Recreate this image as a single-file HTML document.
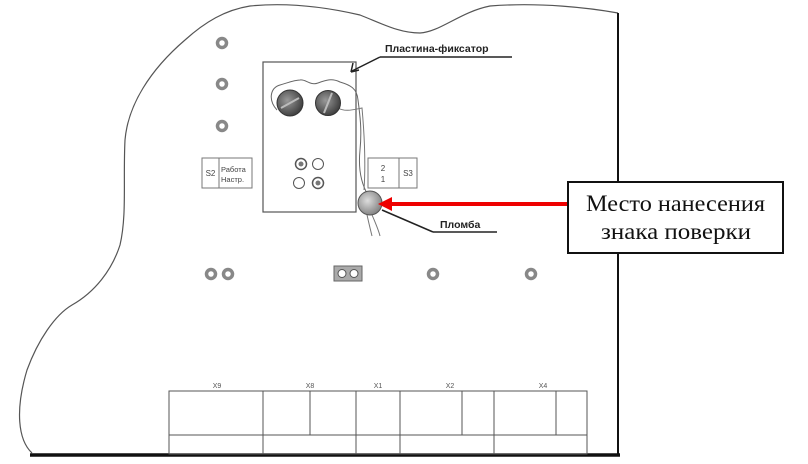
<!DOCTYPE html>
<html><head><meta charset="utf-8"><style>body{margin:0;background:#fff}svg{display:block}</style></head><body>
<svg width="808" height="464" viewBox="0 0 808 464" xmlns="http://www.w3.org/2000/svg" font-family="Liberation Sans, sans-serif">
<defs>
<radialGradient id="ball" cx="0.4" cy="0.4" r="0.7"><stop offset="0" stop-color="#ddd"/><stop offset="1" stop-color="#777"/></radialGradient>
<radialGradient id="scr" cx="0.4" cy="0.4" r="0.7"><stop offset="0" stop-color="#999"/><stop offset="1" stop-color="#333"/></radialGradient>
</defs>
<path d="M32,453 C18,440 15,410 27,370 C38,340 55,315 72,305 C95,292 112,270 120,245 C127,215 123,180 125,140 C128,105 150,70 185,40 C205,22 225,10 250,6 C290,2 330,8 360,15 C385,25 400,33 420,33 C440,32 460,12 490,6 C540,2 590,8 618,13" fill="none" stroke="#555" stroke-width="1.2"/>
<line x1="618" y1="13" x2="618" y2="455" stroke="#111" stroke-width="2"/>
<line x1="30" y1="455" x2="620" y2="455" stroke="#111" stroke-width="3.5"/>
<g fill="none" stroke="#888" stroke-width="3.5">
<circle cx="222" cy="43" r="4.5"/><circle cx="222" cy="84" r="4.5"/><circle cx="222" cy="126" r="4.5"/>
<circle cx="211" cy="274" r="4.5"/><circle cx="228" cy="274" r="4.5"/>
<circle cx="433" cy="274" r="4.5"/><circle cx="531" cy="274" r="4.5"/>
</g>
<rect x="334" y="266" width="28" height="15" fill="#aaa" stroke="#666"/>
<circle cx="342" cy="273.5" r="4" fill="#fff" stroke="#555"/><circle cx="354" cy="273.5" r="4" fill="#fff" stroke="#555"/>
<rect x="202" y="158" width="50" height="30" fill="#fff" stroke="#777"/>
<line x1="219" y1="158" x2="219" y2="188" stroke="#777"/>
<text x="210.5" y="176" font-size="8" text-anchor="middle" fill="#444">S2</text>
<text x="221" y="172" font-size="7.5" fill="#444">Работа</text>
<text x="221" y="182" font-size="7.5" fill="#444">Настр.</text>
<rect x="368" y="158" width="49" height="30" fill="#fff" stroke="#777"/>
<line x1="399" y1="158" x2="399" y2="188" stroke="#777"/>
<text x="383" y="171" font-size="8" text-anchor="middle" fill="#444">2</text>
<text x="383" y="182" font-size="8" text-anchor="middle" fill="#444">1</text>
<text x="408" y="176" font-size="8" text-anchor="middle" fill="#444">S3</text>
<rect x="263" y="62" width="93" height="150" fill="#fff" stroke="#555" stroke-width="1.2"/>
<path d="M277,110 C268,100 270,88 280,85 C290,82 295,80 300,80 C306,79 310,86 318,83 C326,80 332,78 340,82 C350,85 357,88 358,100 C360,115 362,130 360,150 C358,170 362,185 368,195" fill="none" stroke="#666" stroke-width="1"/>
<path d="M338,108 C345,112 352,110 362,108 C364,130 366,160 364,190 M366,210 C368,220 370,228 372,236 M370,210 C374,220 378,228 380,236" fill="none" stroke="#777" stroke-width="1"/>
<circle cx="290" cy="103" r="13" fill="url(#scr)" stroke="#333"/>
<line x1="281" y1="108" x2="299" y2="98" stroke="#bbb" stroke-width="2"/>
<circle cx="328" cy="103" r="12.5" fill="url(#scr)" stroke="#333"/>
<line x1="324" y1="113" x2="332" y2="93" stroke="#bbb" stroke-width="2"/>
<circle cx="301" cy="164" r="5.5" fill="#fff" stroke="#555" stroke-width="1.5"/><circle cx="301" cy="164" r="2.5" fill="#777"/>
<circle cx="318" cy="164" r="5.5" fill="#fff" stroke="#555"/>
<circle cx="299" cy="183" r="5.5" fill="#fff" stroke="#555"/>
<circle cx="318" cy="183" r="5.5" fill="#fff" stroke="#555" stroke-width="1.5"/><circle cx="318" cy="183" r="2.5" fill="#777"/>
<circle cx="370" cy="203" r="12" fill="url(#ball)" stroke="#555"/>
<text x="385" y="52" font-size="10.5" font-weight="bold" fill="#222">Пластина-фиксатор</text>
<line x1="380" y1="57" x2="512" y2="57" stroke="#222" stroke-width="1.5"/>
<path d="M380,57 L352,71" stroke="#222" stroke-width="1.5" fill="none"/>
<path d="M351,72 L353,63 M351,72 L359,70" stroke="#222" stroke-width="1.5" fill="none"/>
<text x="440" y="228" font-size="10.5" font-weight="bold" fill="#222">Пломба</text>
<line x1="433" y1="232" x2="497" y2="232" stroke="#222" stroke-width="1.5"/>
<path d="M433,232 L382,210" stroke="#222" stroke-width="1.5"/>
<line x1="568" y1="204" x2="388" y2="204" stroke="#e00" stroke-width="4"/>
<path d="M378,204 L392,197 L392,211 Z" fill="#e00"/>
<rect x="568" y="182" width="215" height="71" fill="#fff" stroke="#111" stroke-width="2"/>
<text x="586" y="211" font-family="Liberation Serif, serif" font-size="23" textLength="179" lengthAdjust="spacingAndGlyphs" fill="#111">Место нанесения</text>
<text x="601" y="239" font-family="Liberation Serif, serif" font-size="23" textLength="150" lengthAdjust="spacingAndGlyphs" fill="#111">знака поверки</text>
<g fill="none" stroke="#555" stroke-width="1">
<rect x="169" y="391" width="418" height="63"/>
<line x1="169" y1="435" x2="587" y2="435"/>
<line x1="263" y1="391" x2="263" y2="454"/>
<line x1="310" y1="391" x2="310" y2="435"/>
<line x1="356" y1="391" x2="356" y2="454"/>
<line x1="400" y1="391" x2="400" y2="454"/>
<line x1="462" y1="391" x2="462" y2="435"/>
<line x1="494" y1="391" x2="494" y2="454"/>
<line x1="556" y1="391" x2="556" y2="435"/>
</g>
<g font-size="7" fill="#555" text-anchor="middle">
<text x="217" y="388">X9</text><text x="310" y="388">X8</text><text x="378" y="388">X1</text><text x="450" y="388">X2</text><text x="543" y="388">X4</text>
</g>
</svg>
</body></html>
